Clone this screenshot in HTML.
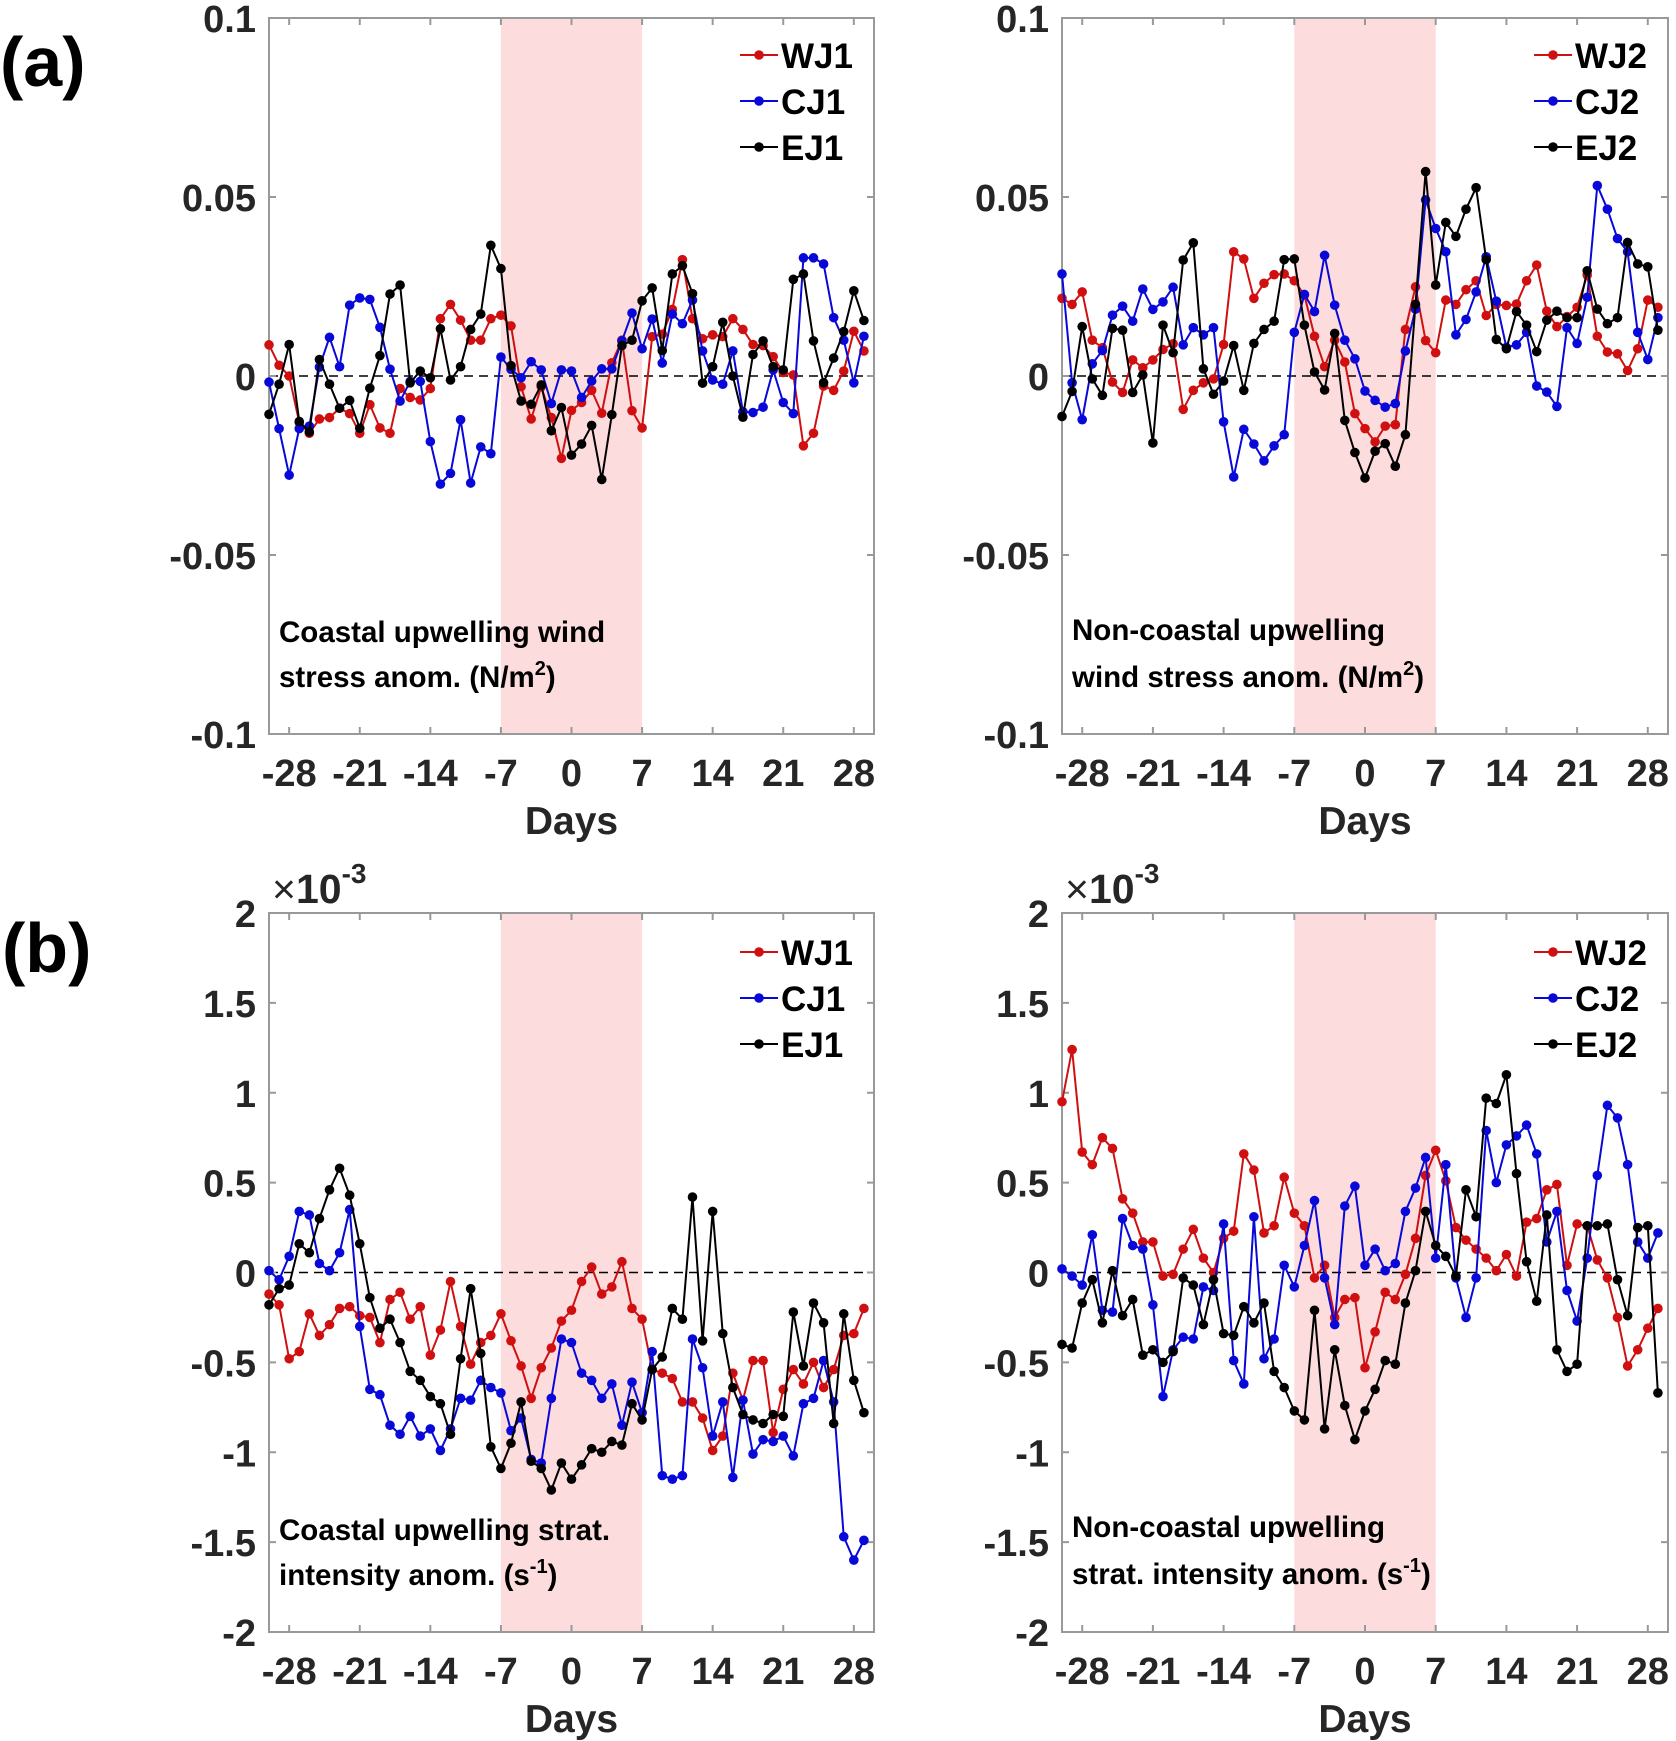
<!DOCTYPE html>
<html><head><meta charset="utf-8">
<style>
html,body{margin:0;padding:0;background:#fff;}
svg{display:block;font-family:"Liberation Sans",Arial,sans-serif;}
.tick{font-size:38px;font-weight:bold;fill:#262626;}
.lab{font-size:39px;font-weight:bold;fill:#262626;}
.leg{font-size:35px;font-weight:bold;fill:#000;}
.ann{font-size:29.5px;font-weight:bold;fill:#000;}
.pl{font-size:70px;font-weight:bold;fill:#000;}
</style></head>
<body>
<svg id="fig" width="1676" height="1741" viewBox="0 0 1676 1741">
<text class="pl" x="0" y="86">(a)</text>
<text class="pl" x="2" y="972">(b)</text>
</svg>
<script>
const days = [];
for (let d = -30; d <= 29; d++) days.push(d);
const xTicks = [-28,-21,-14,-7,0,7,14,21,28];
const yTicksA = [0.1,0.05,0,-0.05,-0.1];
const yTickLabelsA = ["0.1","0.05","0","-0.05","-0.1"];
const yTicksB = [2,1.5,1,0.5,0,-0.5,-1,-1.5,-2];
const yTickLabelsB = ["2","1.5","1","0.5","0","-0.5","-1","-1.5","-2"];
// panel a (units of 1e-3 N/m2)
const wj1a = [8.7,3,0,-13,-16,-12,-11.6,-9,-10.5,-16,-8,-14.5,-16,-3.5,-6,-6.7,-3.5,16,20,15.6,10,10,16,17,14,-3,-12,-3,-11.6,-23,-9.6,-7.4,-4,-10.4,3.7,10,-9.7,-14.5,11,11.7,18.6,32.5,16,10.4,11.5,11,16,13,8.8,8.5,5.4,1,0.3,-19.5,-16,-2.8,-4,1.4,12.5,7];
const cj1a = [-1.7,-14.7,-27.7,-14.7,-14,2.5,10.8,2.6,19.8,21.8,21.4,13.6,1.9,-7,-1.5,-1.5,-18.3,-30.2,-27.2,-12.2,-29.9,-19.8,-21.7,5.3,1.9,-0.5,4,1.7,-7.7,1.7,1.4,-6,-1.4,2,2,9.8,17.6,7.6,15.9,3.6,17.3,14.6,21.2,7,-1.1,-2.3,7,-10,-10.2,-8.7,1.7,-7.4,-10.5,33,33,31.3,16.3,10,-1.9,11.1];
const ej1a = [-10.7,-2.3,8.8,-12.7,-15.6,4.6,-2.3,-9,-6.8,-14.6,-3.4,5.7,22.9,25.4,-1.9,1.4,-0.5,13.2,-1.1,2.6,13,17.3,36.5,30,2.9,-7,-7.9,-2.5,-15.3,-8.8,-22.1,-19,-13.8,-28.9,-10.8,8.5,10,21,24.6,7.1,28.5,30.8,23,-2,2.6,15,0,-11.5,6,9.8,2.6,1.7,27,28.5,9.8,-1.9,5,12.4,23.8,15.5];
const wj2a = [21.7,20,23.5,10,7.9,-1.7,-4.6,4.5,2.3,4.5,7.4,9,-9.3,-4,-1.9,-0.8,8.8,34.7,32.7,21.7,25.9,28.3,28.5,26.6,22.6,11.1,2.6,10,3.9,-10.5,-14.7,-18.4,-14,-13.6,13,24.9,9.9,6.5,21.2,20,24.1,26.6,16.9,20,19.7,20.1,26.6,31,18.1,13.8,16.6,19.2,28.2,11.1,6.7,6.2,1.5,7.6,21.2,19.2];
const cj2a = [28.5,-1.9,-12.2,3.4,7.1,17,19.5,15.3,24.3,18.6,20.7,24.8,8.7,13.5,11.5,13.5,-12.8,-28.2,-14.9,-19,-23.7,-19.5,-16.4,12.2,22.8,18,33.7,19.8,10,4.8,-4.2,-6.8,-8.7,-7.7,7,18.7,49.2,41.2,34.7,11.5,15.8,23.5,33.3,20.9,8,8.7,12.2,-2.8,-4.5,-8.5,13.5,9.1,22,53.2,46.6,38.4,34.7,12.2,4.6,16.3];
const ej2a = [-11.3,-4.3,13.8,-0.8,-5.4,13.3,12.8,-4.6,0.3,-18.7,14.2,6.5,32.4,37.2,2,-5.1,-1.4,8.5,-4,9.1,13,15.3,32.5,32.7,14.2,1.1,-3.9,11.9,-12.4,-21.4,-28.5,-21,-18.9,-25.2,-16.4,20,57.1,25.4,42.9,39,46.6,52.6,32.5,10.2,7.6,18,14.2,6.8,15.6,18.1,16.3,16.3,29.4,18.7,14.6,16.3,37.3,31.3,30.5,12.8];
// panel b (units of 1e-3 s^-1)
const wj1b = [-0.12,-0.18,-0.48,-0.44,-0.23,-0.35,-0.29,-0.2,-0.19,-0.24,-0.25,-0.39,-0.15,-0.11,-0.26,-0.19,-0.46,-0.32,-0.05,-0.3,-0.51,-0.39,-0.35,-0.23,-0.38,-0.52,-0.7,-0.53,-0.42,-0.27,-0.21,-0.05,0.03,-0.12,-0.08,0.06,-0.2,-0.26,-0.54,-0.56,-0.59,-0.72,-0.72,-0.81,-0.99,-0.91,-0.56,-0.71,-0.49,-0.49,-0.89,-0.65,-0.54,-0.62,-0.5,-0.64,-0.54,-0.35,-0.34,-0.2];
const cj1b = [0.01,-0.04,0.09,0.34,0.32,0.05,0.01,0.11,0.35,-0.3,-0.65,-0.68,-0.85,-0.9,-0.8,-0.91,-0.87,-0.99,-0.87,-0.7,-0.71,-0.6,-0.64,-0.67,-0.88,-0.81,-1.04,-1.06,-0.7,-0.37,-0.39,-0.56,-0.6,-0.7,-0.62,-0.85,-0.61,-0.78,-0.44,-1.13,-1.15,-1.13,-0.37,-0.53,-0.91,-0.72,-1.14,-0.71,-1.01,-0.93,-0.94,-0.91,-1.02,-0.73,-0.7,-0.49,-0.72,-1.47,-1.6,-1.49];
const ej1b = [-0.18,-0.09,-0.07,0.16,0.11,0.3,0.46,0.58,0.43,0.16,-0.14,-0.31,-0.26,-0.39,-0.55,-0.6,-0.69,-0.73,-0.9,-0.48,-0.09,-0.45,-0.97,-1.09,-0.95,-0.72,-1.05,-1.09,-1.21,-1.06,-1.15,-1.07,-0.98,-1.0,-0.94,-0.96,-0.73,-0.82,-0.54,-0.47,-0.2,-0.26,0.42,-0.38,0.34,-0.34,-0.64,-0.79,-0.82,-0.84,-0.79,-0.8,-0.22,-0.52,-0.17,-0.28,-0.84,-0.23,-0.6,-0.78];
const wj2b = [0.95,1.24,0.67,0.6,0.75,0.69,0.41,0.33,0.17,0.17,-0.02,-0.01,0.13,0.24,0.08,0,0.19,0.23,0.66,0.57,0.22,0.26,0.53,0.33,0.26,-0.03,0.04,-0.25,-0.15,-0.14,-0.53,-0.33,-0.11,-0.15,-0.01,0.19,0.54,0.68,0.51,0.25,0.18,0.13,0.08,0.01,0.1,-0.02,0.28,0.3,0.46,0.49,0.04,0.27,0.26,0.07,-0.03,-0.25,-0.52,-0.43,-0.31,-0.2];
const cj2b = [0.02,-0.02,-0.07,0.21,-0.21,-0.22,0.3,0.15,0.13,-0.18,-0.69,-0.43,-0.36,-0.37,-0.08,-0.1,0.27,-0.49,-0.62,0.31,-0.48,-0.37,0.04,-0.08,0.15,0.4,-0.03,-0.29,0.37,0.48,0.04,0.13,0.01,0.05,0.34,0.47,0.64,0.08,0.6,-0.03,-0.25,-0.03,0.79,0.5,0.71,0.76,0.82,0.66,0.17,0.34,-0.1,-0.27,0.08,0.54,0.93,0.86,0.6,0.17,0.08,0.22];
const ej2b = [-0.4,-0.42,-0.17,-0.04,-0.28,0.01,-0.24,-0.15,-0.46,-0.43,-0.5,-0.44,-0.03,-0.07,-0.29,-0.04,-0.34,-0.35,-0.19,-0.28,-0.17,-0.55,-0.64,-0.77,-0.82,-0.21,-0.87,-0.43,-0.74,-0.93,-0.77,-0.65,-0.49,-0.51,-0.17,0.01,0.34,0.15,0.09,-0.02,0.46,0.31,0.97,0.94,1.1,0.55,0.06,-0.16,0.32,-0.43,-0.55,-0.51,0.26,0.26,0.27,-0.04,-0.24,0.25,0.26,-0.67];
const namesL = ["WJ1","CJ1","EJ1"], namesR = ["WJ2","CJ2","EJ2"];
const colors = ["#d01010","#0808d8","#000000"];

const NS = "http://www.w3.org/2000/svg";
const svg = document.getElementById("fig");
function mk(tag, attrs, parent){const e=document.createElementNS(NS,tag);for(const k in attrs)e.setAttribute(k,attrs[k]);(parent||svg).appendChild(e);return e;}

function panel(id, L, R, T, B, ymin, ymax, yt, ytl, series, names, ann1, ann2, sup, annX, annY1, annY2, legY){
  const g = mk("g",{});
  
  
  const xs = d => L + (d + 30) / 60 * (R - L);
  const ys = v => B - (v - ymin) / (ymax - ymin) * (B - T);
  const sh = mk("rect",{x:xs(-7),y:T,width:xs(7)-xs(-7),height:B-T,fill:"#fcdcdc"},g);
  
  
  const zl = mk("line",{x1:L,x2:R,y1:ys(0),y2:ys(0),stroke:"#000","stroke-width":1.5,"stroke-dasharray":"9,6"},g);
  
  
  const box = mk("rect",{x:L,y:T,width:R-L,height:B-T,fill:"none",stroke:"#999","stroke-width":2},g);
  
  
  xTicks.forEach(t=>{
    mk("line",{x1:xs(t),x2:xs(t),y1:B,y2:B-7,stroke:"#999","stroke-width":2},g);
    mk("line",{x1:xs(t),x2:xs(t),y1:T,y2:T+7,stroke:"#999","stroke-width":2},g);
    const tx = mk("text",{class:"tick",x:xs(t),y:B+52,"text-anchor":"middle"},g);
    tx.textContent = t;
    
    
  });
  yt.forEach((t,i)=>{
    mk("line",{x1:L,x2:L+7,y1:ys(t),y2:ys(t),stroke:"#999","stroke-width":2},g);
    mk("line",{x1:R,x2:R-7,y1:ys(t),y2:ys(t),stroke:"#999","stroke-width":2},g);
    const tx = mk("text",{class:"tick",x:L-13,y:ys(t)+14,"text-anchor":"end"},g);
    tx.textContent = ytl[i];
    
    
  });
  const xl = mk("text",{class:"lab",x:(L+R)/2,y:B+100,"text-anchor":"middle"},g);
  xl.textContent = "Days";
  
  
  series.forEach((s,k)=>{
    const sg = mk("g",{},g);
    
    
    mk("polyline",{points:s.map((v,i)=>xs(days[i])+","+ys(v)).join(" "),fill:"none",stroke:colors[k],"stroke-width":2},sg);
    s.forEach((v,i)=>{
      const c = mk("circle",{cx:xs(days[i]),cy:ys(v),r:4.8,fill:colors[k]},sg);
      
      
    });
  });
  names.forEach((n,k)=>{
    const y = legY + k*46;
    const lg = mk("g",{},g);
    
    
    mk("line",{x1:R-134,x2:R-96,y1:y,y2:y,stroke:colors[k],"stroke-width":2},lg);
    mk("circle",{cx:R-115,cy:y,r:4.8,fill:colors[k]},lg);
    const t = mk("text",{class:"leg",x:R-93,y:y+13},lg);
    t.textContent = n;
  });
  const a1 = mk("text",{class:"ann",x:annX,y:annY1},g);
  a1.textContent = ann1;
  
  
  const a2 = mk("text",{class:"ann",x:annX,y:annY2},g);
  
  
  const p1 = mk("tspan",{},a2); p1.textContent = ann2;
  const p2 = mk("tspan",{dy:-12,"font-size":"20px"},a2); p2.textContent = sup;
  const p3 = mk("tspan",{dy:12},a2); p3.textContent = ")";
  return {xs, ys};
}
panel("panel-a-left",269,874,18,734,-100,100,yTicksA.map(v=>v*1000),yTickLabelsA,[wj1a,cj1a,ej1a],namesL,
  "Coastal upwelling wind","stress anom. (N/m","2",279,642,687,55);
panel("panel-a-right",1062,1668,18,734,-100,100,yTicksA.map(v=>v*1000),yTickLabelsA,[wj2a,cj2a,ej2a],namesR,
  "Non-coastal upwelling","wind stress anom. (N/m","2",1072,640,687,55);
panel("panel-b-left",269,874,913,1632,-2,2,yTicksB,yTickLabelsB,[wj1b,cj1b,ej1b],namesL,
  "Coastal upwelling strat.","intensity anom. (s","-1",279,1540,1585,952);
panel("panel-b-right",1062,1668,913,1632,-2,2,yTicksB,yTickLabelsB,[wj2b,cj2b,ej2b],namesR,
  "Non-coastal upwelling","strat. intensity anom. (s","-1",1072,1537,1584,952);
[[272],[1065]].forEach(([x],i)=>{
  const t = mk("text",{x:x,y:903,"font-size":"41px",fill:"#262626"});
  
  
  const a = mk("tspan",{},t); a.textContent = "×";
  const b = mk("tspan",{"font-weight":"bold"},t); b.textContent = "10";
  const c = mk("tspan",{dy:-20,"font-size":"28px","font-weight":"bold"},t); c.textContent = "-3";
});
</script>
</body></html>
